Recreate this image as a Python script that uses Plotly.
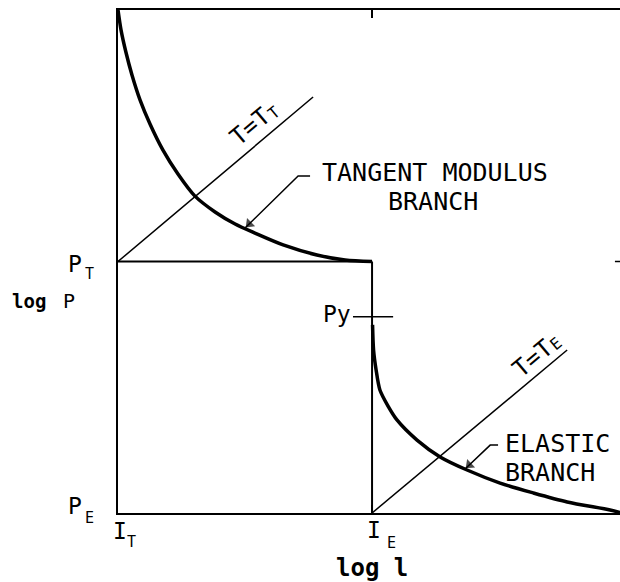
import plotly.graph_objects as go

FONT = "DejaVu Sans Mono"
INK = "black"

# Axis extents: log I from I_T (0) to I_E (1) and beyond; log P from P_E (0) to P_T (1) and beyond
X_MAX, Y_MAX = 1.976, 2.0
I_T, I_E = 0.0, 1.0
P_E, P_T, P_Y = 0.0, 1.0, 0.78

# Tangent modulus branch (log I, log P)
tangent_logI = [0.000, 0.012, 0.031, 0.055, 0.087, 0.126, 0.177, 0.236, 0.303,
                0.382, 0.461, 0.539, 0.650, 0.783, 0.894, 1.000]
tangent_logP = [2.000, 1.920, 1.833, 1.742, 1.642, 1.547, 1.443, 1.348, 1.260,
                1.197, 1.149, 1.113, 1.066, 1.026, 1.006, 1.000]

# Elastic branch (log I, log P)
elastic_logI = [1.002, 1.006, 1.016, 1.031, 1.063, 1.098, 1.177, 1.268, 1.374,
                1.504, 1.634, 1.768, 1.937, 1.976]
elastic_logP = [0.748, 0.648, 0.569, 0.489, 0.425, 0.370, 0.290, 0.223, 0.171,
                0.119, 0.080, 0.044, 0.012, 0.002]

# Constant-T rays
ray_TT_logI = [0.0, 0.768]
ray_TT_logP = [1.0, 1.654]
ray_TE_logI = [1.0, 1.768]
ray_TE_logP = [0.0, 0.648]

# P_y marker across the I_E line
py_tick_logI = [0.925, 1.083]

# Leader lines: lead-in end, bend, arrow tip
tangent_leader_logI = [0.756, 0.709, 0.500]
tangent_leader_logP = [1.340, 1.340, 1.133]
elastic_leader_logI = [1.496, 1.465, 1.366]
elastic_leader_logP = [0.270, 0.270, 0.175]

fig = go.Figure()


def seg(x, y, w):
    fig.add_trace(go.Scatter(x=x, y=y, mode="lines", hoverinfo="skip",
                             line=dict(color=INK, width=w), showlegend=False))


def leader(x, y, pullback):
    # line from the label to the curve, ending in a filled arrowhead
    seg(x, y, 1.5)
    hx = x[-1] + (x[-2] - x[-1]) * pullback
    hy = y[-1] + (y[-2] - y[-1]) * pullback
    fig.add_trace(go.Scatter(x=[x[-2], hx], y=[y[-2], hy], mode="markers",
                             hoverinfo="skip", showlegend=False,
                             marker=dict(symbol="triangle-up", angleref="previous",
                                         size=[0, 10], color=INK,
                                         line=dict(width=0))))


# constant-T rays
seg(ray_TT_logI, ray_TT_logP, 1.5)
seg(ray_TE_logI, ray_TE_logP, 1.5)
# P_T plateau and jump at I_E
seg([I_T, I_E], [P_T, P_T], 2)
seg([I_E, I_E], [P_T, P_E], 2)
# P_y tick
seg(py_tick_logI, [P_Y, P_Y], 1.5)
# right-edge tick at P_T
seg([X_MAX - 0.02, X_MAX], [P_T, P_T], 1.5)
# branches
for bx, by in ((tangent_logI, tangent_logP), (elastic_logI, elastic_logP)):
    fig.add_trace(go.Scatter(x=bx, y=by, mode="lines", hoverinfo="skip",
                             line=dict(color=INK, width=3.5, shape="spline", smoothing=0.8),
                             showlegend=False))
leader(tangent_leader_logI, tangent_leader_logP, 0.08)
leader(elastic_leader_logI, elastic_leader_logP, 0.17)

ann = []


def label(text, x, y, size, xanchor="center", angle=0, ref="data"):
    # "paper" positions sit outside the axis ranges, as fractions of the plot area
    xr, yr = ("x", "y") if ref == "data" else ("paper", "paper")
    ann.append(dict(text=text, x=x, y=y, xref=xr, yref=yr, showarrow=False,
                    xanchor=xanchor, yanchor="middle", textangle=angle,
                    font=dict(family=FONT, size=size, color=INK)))


label("TANGENT MODULUS", 0.795, 1.354, 25, xanchor="left")
label("BRANCH", 1.238, 1.239, 25)
label("ELASTIC", 1.516, 0.278, 25, xanchor="left")
label("BRANCH", 1.516, 0.163, 25, xanchor="left")

# rotated T = T_T and T = T_E, subscripts set as their own smaller texts
label("T=T", 0.520, 1.533, 24, angle=-40)
label("T", 0.614, 1.592, 16, angle=-40)
label("T=T", 1.630, 0.614, 24, angle=-40)
label("E", 1.724, 0.674, 16, angle=-40)

label("Py", 0.925, 0.79, 23, xanchor="right")

# labels beside and below the frame
label("P", -0.085, 0.495, 23, ref="paper")
label("T", -0.056, 0.476, 15, ref="paper")
label("<b>log</b>", -0.178, 0.421, 19, ref="paper")
label("P", -0.098, 0.421, 20, ref="paper")
label("P", -0.085, 0.014, 23, ref="paper")
label("E", -0.056, -0.009, 15, ref="paper")
label("I", 0.004, -0.035, 23, ref="paper")
label("T", 0.027, -0.057, 15, ref="paper")
label("I", 0.510, -0.034, 23, ref="paper")
label("E", 0.544, -0.060, 15, ref="paper")
label("<b>log l</b>", 0.430, -0.109, 24, xanchor="left", ref="paper")

fig.update_layout(
    width=620, height=582,
    margin=dict(l=118, r=0, t=10, b=69),
    paper_bgcolor="white", plot_bgcolor="white",
    annotations=ann,
    xaxis=dict(range=[0, X_MAX], showgrid=False, zeroline=False,
               showline=True, linecolor=INK, linewidth=2, mirror="ticks",
               ticks="inside", tickvals=[I_E], ticklen=8, tickwidth=1.5,
               tickcolor=INK, showticklabels=False, fixedrange=True),
    yaxis=dict(range=[0, Y_MAX], showgrid=False, zeroline=False,
               showline=True, linecolor=INK, linewidth=2, ticks="",
               showticklabels=False, fixedrange=True),
)

fig.write_html("out.html")
